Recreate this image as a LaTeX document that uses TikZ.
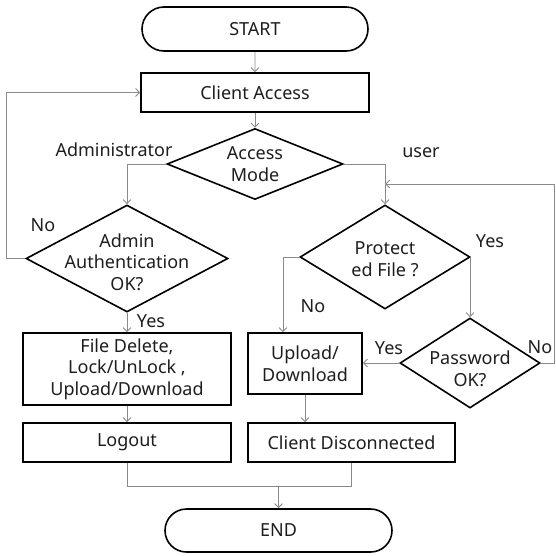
\documentclass[tikz,border=0pt]{standalone}
\usepackage{fontspec}
\setmainfont{Noto Sans}
\usetikzlibrary{arrows.meta,shapes.geometric,shapes.misc}
\definecolor{conncol}{HTML}{8A8A8A}
\definecolor{txtcol}{HTML}{1E1E1E}
\newcommand{\dtext}[2]{\smash{\makebox[0pt]{\raisebox{#1}{\begin{tabular}{@{}c@{}}#2\end{tabular}}}}}
\begin{document}
\begin{tikzpicture}[x=1pt,y=-1pt,
  every node/.style={font=\fontsize{18}{21.5}\selectfont, text=txtcol},
  box/.style={draw=black, line width=1.6pt, rectangle, inner sep=0pt, align=center},
  term/.style={draw=black, line width=1.6pt, rounded rectangle, inner sep=0pt},
  dia/.style={draw=black, line width=1.6pt, diamond, inner sep=0pt},
  conn/.style={draw=conncol, line width=0.9pt, -{Straight Barb[length=4pt,width=8pt]}},
  plain/.style={draw=conncol, line width=0.9pt},
  lab/.style={inner sep=0pt}
]
\useasboundingbox[fill=white] (0,0) rectangle (556,555);

% nodes
\node[term, minimum width=226pt, minimum height=44pt] (start) at (255,29) {START};
\node[box, minimum width=228pt, minimum height=39pt] (access) at (255,92.5) {Client Access};
\node[dia, minimum width=176pt, minimum height=71pt] (mode) at (255,164) {\dtext{-6.75pt}{Access\\Mode}};
\node[dia, minimum width=202pt, minimum height=107pt] (admin) at (127,258.5) {\dtext{-10.25pt}{Admin\\Authentication\\OK?}};
\node[dia, minimum width=170pt, minimum height=104pt] (prot) at (385,257) {\dtext{-8.75pt}{Protect\\ed File ?}};
\node[dia, minimum width=140pt, minimum height=90pt] (pass) at (470,363) {\dtext{-12.75pt}{Password\\OK?}};
\node[box, minimum width=208pt, minimum height=72pt] (fdel) at (127,369) {File Delete,\\Lock/UnLock ,\\Upload/Download};
\node[box, minimum width=114pt, minimum height=61pt] (upl) at (305,363.5) {Upload/\\Download};
\node[box, minimum width=208pt, minimum height=39pt] (logout) at (127,442.5) {Logout};
\node[box, minimum width=207pt, minimum height=39pt] (disc) at (351.5,442.5) {Client Disconnected};
\node[term, minimum width=227pt, minimum height=43pt] (endn) at (278.5,530.5) {END};

% labels
\node[lab] (ladm) at (114,150) {Administrator};
\node[lab] (luser) at (421,153) {user};
\node[lab] (lno1) at (43,225) {No};
\node[lab] (lyes1) at (151,321) {Yes};
\node[lab] (lno2) at (313,306) {No};
\node[lab] (lyes2) at (490,241) {Yes};
\node[lab] (lyes3) at (389,348) {Yes};
\node[lab] (lno3) at (540,347) {No};

% connectors
\coordinate (uin) at (385,184);
\coordinate (merge) at (278.5,486);
\draw[conn] (start) -- (access);
\draw[conn] (access) -- (mode);
\draw[conn] (mode.west) -| (admin.north);
\draw[conn] (mode.east) -| (prot.north);
\draw[conn] (admin.west) -- ++(-19,0) |- (access.west);
\draw[conn] (admin.south) -- (fdel.north);
\draw[conn] (fdel.south) -- (logout.north);
\draw[conn] (prot.west) -| ([xshift=-22pt]upl.north);
\draw[conn] (prot.east) -| (pass.north);
\draw[conn] (pass.west) -- (upl.east |- pass.west);
\draw[conn] (pass.east) -| (554,184) -- (uin);
\draw[conn] (upl.south) -- (upl.south |- disc.north);
\draw[plain] (logout.south) |- (merge) -| (disc.south);
\draw[conn] (merge) -- (endn.north);
\end{tikzpicture}
\end{document}
